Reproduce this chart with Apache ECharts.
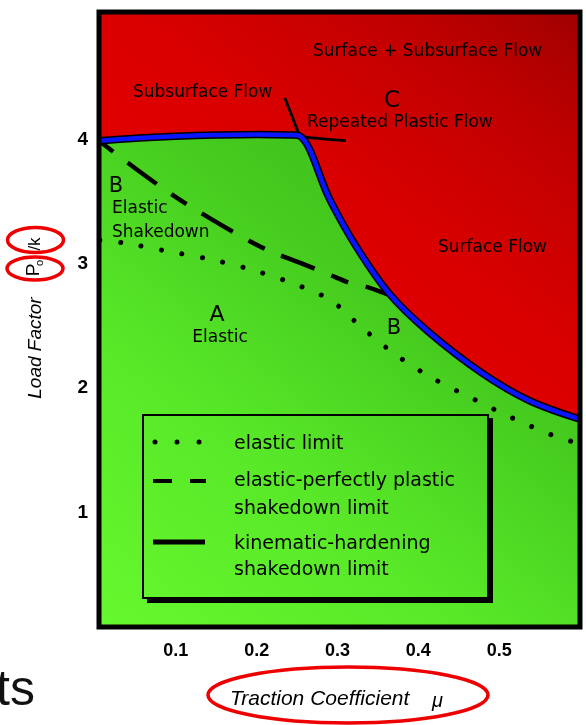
<!DOCTYPE html>
<html><head><meta charset="utf-8">
<script src="https://cdn.jsdelivr.net/npm/echarts@6/dist/echarts.min.js"></script>
<style>html,body{margin:0;padding:0;background:#fff}#c{width:586px;height:725px}</style>
</head><body><div id="c"></div>
<script>
// ---------------- data ----------------
// kinematic-hardening shakedown limit (boundary between regions)
const kinMu = [0.005, 0.05, 0.1, 0.15, 0.2, 0.245, 0.253, 0.291, 0.324, 0.364, 0.413, 0.479, 0.537, 0.6];
const kinL  = [3.99, 4.01, 4.025, 4.035, 4.04, 4.035, 4.03, 3.51, 3.13, 2.76, 2.45, 2.12, 1.90, 1.75];
// elastic-perfectly plastic shakedown limit
const epMu = [0.005, 0.041, 0.078, 0.115, 0.171, 0.213, 0.254, 0.292, 0.315, 0.338, 0.367];
const epL  = [3.99, 3.81, 3.634, 3.473, 3.256, 3.111, 3.007, 2.906, 2.846, 2.81, 2.741];
// elastic limit
const elMu = [0.006, 0.035, 0.087, 0.14, 0.19, 0.243, 0.291, 0.332, 0.374, 0.419, 0.468, 0.516, 0.565, 0.6];
const elL  = [3.19, 3.168, 3.104, 3.039, 2.959, 2.846, 2.709, 2.476, 2.259, 2.074, 1.913, 1.760, 1.623, 1.55];
// short separator lines near the top (subsurface / repeated plastic flow)
const sepAMu = [0.235, 0.2536];
const sepAL  = [4.334, 4.022];
const sepBMu = [0.2536, 0.2784, 0.3105];
const sepBL  = [4.022, 4.006, 3.99];
// ticks
const xTicks = [0.1, 0.2, 0.3, 0.4, 0.5];
const yTicks = [1, 2, 3, 4];
// names
const seriesNames = ['elastic limit', 'elastic-perfectly plastic\nshakedown limit', 'kinematic-hardening\nshakedown limit'];
const xTitle = 'Traction Coefficient';
const yTitle = 'Load Factor';

// ---------------- chart ----------------
const zip = (a, b) => a.map((v, i) => [v, b[i]]);
const kin = zip(kinMu, kinL);
const KSM = 0.35;

const redGrad = {type: 'linear', x: 99, y: 627, x2: 580, y2: 12, global: true,
  colorStops: [{offset: 0, color: '#f20000'}, {offset: 0.45, color: '#e40000'}, {offset: 0.65, color: '#d90000'},
               {offset: 0.85, color: '#c00000'}, {offset: 1, color: '#a00000'}]};
const greenGrad = {type: 'linear', x: 99, y: 627, x2: 580, y2: 12, global: true,
  colorStops: [{offset: 0, color: '#66f82e'}, {offset: 0.3, color: '#58e828'}, {offset: 0.55, color: '#46cc1f'},
               {offset: 1, color: '#30a812'}]};

const AG = '"DejaVu Sans", sans-serif';
const AR = '"Liberation Sans", Arial, sans-serif';

function txt(text, x, y, size, extra) {
  return Object.assign({type: 'text', x: x, y: y, z: 60,
    style: {text: text, font: size + 'px ' + AG, fill: '#000', align: 'left', verticalAlign: 'middle',
            textAlign: 'left', textVerticalAlign: 'middle'}}, extra || {});
}
function ctxt(text, x, y, size) {
  const t = txt(text, x, y, size);
  t.style.align = 'center'; t.style.textAlign = 'center';
  return t;
}

const legendLines = [];
const lgX = 234;
const lgRows = [[seriesNames[0].split('\n')[0], 444], [seriesNames[1].split('\n')[0], 481], [seriesNames[1].split('\n')[1], 509],
                [seriesNames[2].split('\n')[0], 544], [seriesNames[2].split('\n')[1], 570]];
lgRows.forEach(r => legendLines.push(txt(r[0], lgX, r[1], 19)));

const graphics = [
  // plot frame
  {type: 'rect', z: 80, shape: {x: 99, y: 12, width: 481, height: 615}, style: {fill: 'none', stroke: '#000', lineWidth: 5}},
  // region labels
  txt('Surface + Subsurface Flow', 313, 52, 17),
  txt('Subsurface Flow', 133, 93, 17),
  ctxt('C', 392, 101, 23),
  txt('Repeated Plastic Flow', 307, 123, 17),
  ctxt('B', 116, 187, 21),
  txt('Elastic', 112, 209, 17),
  txt('Shakedown', 112, 233, 17),
  txt('Surface Flow', 438, 248, 17),
  ctxt('A', 217, 315, 22),
  ctxt('Elastic', 220, 338, 17),
  ctxt('B', 394, 329, 21),
  // legend box
  {type: 'polyline', z: 60, shape: {points: [[147, 601], [491, 601], [491, 418]]}, style: {stroke: '#000', lineWidth: 4, fill: 'none'}},
  {type: 'rect', z: 61, shape: {x: 143, y: 415, width: 345, height: 183}, style: {fill: 'none', stroke: '#000', lineWidth: 2}},
  {type: 'line', z: 61, shape: {x1: 155, y1: 442, x2: 201, y2: 442}, style: {stroke: '#000', lineWidth: 5, lineCap: 'round', lineDash: [0.01, 22]}},
  {type: 'line', z: 61, shape: {x1: 153, y1: 481, x2: 172, y2: 481}, style: {stroke: '#000', lineWidth: 4}},
  {type: 'line', z: 61, shape: {x1: 190, y1: 481, x2: 206, y2: 481}, style: {stroke: '#000', lineWidth: 4}},
  {type: 'line', z: 61, shape: {x1: 153, y1: 542, x2: 205, y2: 542}, style: {stroke: '#000', lineWidth: 5}},
  ...legendLines,
  // axis titles
  {type: 'text', z: 60, x: 230, y: 699, style: {text: xTitle, font: 'italic 21px ' + AR, fill: '#000', align: 'left', verticalAlign: 'middle', textAlign: 'left', textVerticalAlign: 'middle'}},
  {type: 'text', z: 60, x: 432, y: 701, style: {text: 'μ', font: 'italic 20px ' + AR, fill: '#000', align: 'left', verticalAlign: 'middle', textAlign: 'left', textVerticalAlign: 'middle'}},
  {type: 'text', z: 60, x: 36, y: 348, rotation: Math.PI / 2, style: {text: yTitle, font: 'italic 19px ' + AR, fill: '#000', align: 'center', verticalAlign: 'middle', textAlign: 'center', textVerticalAlign: 'middle'}},
  {type: 'text', z: 60, x: 34, y: 270, rotation: Math.PI / 2, style: {text: 'P', font: '19px ' + AR, fill: '#000', align: 'center', verticalAlign: 'middle', textAlign: 'center', textVerticalAlign: 'middle'}},
  {type: 'text', z: 60, x: 40, y: 263, rotation: Math.PI / 2, style: {text: 'o', font: '11px ' + AR, fill: '#000', align: 'center', verticalAlign: 'middle', textAlign: 'center', textVerticalAlign: 'middle'}},
  {type: 'text', z: 60, x: 35, y: 244, rotation: Math.PI / 2, style: {text: '/k', font: '17px ' + AR, fill: '#000', align: 'center', verticalAlign: 'middle', textAlign: 'center', textVerticalAlign: 'middle'}},
  // red ellipses
  {type: 'ellipse', z: 70, shape: {cx: 35.5, cy: 240, rx: 28, ry: 12.5}, style: {fill: 'none', stroke: '#ee0000', lineWidth: 3.5}},
  {type: 'ellipse', z: 70, shape: {cx: 35, cy: 268.5, rx: 28, ry: 11.5}, style: {fill: 'none', stroke: '#ee0000', lineWidth: 3.5}},
  {type: 'ellipse', z: 70, shape: {cx: 348, cy: 695, rx: 140, ry: 28}, style: {fill: 'none', stroke: '#ee0000', lineWidth: 3.5}},
  // slide fragment
  {type: 'text', z: 60, x: -4, y: 691, style: {text: 'ts', font: '50px ' + AR, fill: '#111', align: 'left', verticalAlign: 'middle', textAlign: 'left', textVerticalAlign: 'middle'}}
];

const chart = echarts.init(document.getElementById('c'), null, {renderer: 'canvas'});
chart.setOption({
  backgroundColor: '#ffffff',
  animation: false,
  grid: {left: 99, right: 6, top: 12, bottom: 98, containLabel: false},
  xAxis: {
    type: 'value', min: 0.005, max: 0.6,
    axisLine: {show: false}, splitLine: {show: false},
    axisTick: {show: true, inside: true, length: 18, customValues: xTicks, lineStyle: {color: '#000', width: 3}},
    axisLabel: {show: true, customValues: xTicks, formatter: v => v.toFixed(1), margin: 15,
                fontFamily: AR, fontSize: 18, fontWeight: 'bold', color: '#000'}
  },
  yAxis: {
    type: 'value', min: 0.078, max: 5.025,
    axisLine: {show: false}, splitLine: {show: false},
    axisTick: {show: true, inside: true, length: 14, customValues: yTicks, lineStyle: {color: '#000', width: 3}},
    axisLabel: {show: true, customValues: yTicks, formatter: v => String(v), margin: 11,
                fontFamily: AR, fontSize: 19, fontWeight: 'bold', color: '#000'}
  },
  series: [
    {type: 'line', name: 'plastic region', data: kin, symbol: 'none', silent: true, z: 1, smooth: KSM,
     lineStyle: {width: 0, opacity: 0}, areaStyle: {origin: 'end', color: redGrad, opacity: 1}},
    {type: 'line', name: 'shakedown region', data: kin, symbol: 'none', silent: true, z: 1, smooth: KSM,
     lineStyle: {width: 0, opacity: 0}, areaStyle: {origin: 'start', color: greenGrad, opacity: 1}},
    {type: 'line', name: seriesNames[0], data: zip(elMu, elL), symbol: 'none', z: 3, smooth: 0.3,
     lineStyle: {color: '#000', width: 5, type: [0.01, 20.8], cap: 'round'}},
    {type: 'line', name: seriesNames[1], data: zip(epMu, epL), symbol: 'none', z: 3, smooth: 0.3,
     lineStyle: {color: '#000', width: 4.5, type: [18, 18, 36, 18], cap: 'butt'}},
    {type: 'line', name: 'sepA', data: zip(sepAMu, sepAL), symbol: 'none', z: 3,
     lineStyle: {color: '#000', width: 2.8}},
    {type: 'line', name: 'sepB', data: zip(sepBMu, sepBL), symbol: 'none', z: 3, smooth: 0.4,
     lineStyle: {color: '#000', width: 2.8}},
    {type: 'line', name: seriesNames[2], data: kin, symbol: 'none', z: 4, smooth: KSM,
     lineStyle: {color: '#000', width: 7.5, join: 'round'}},
    {type: 'line', name: seriesNames[2] + ' (blue)', data: kin, symbol: 'none', z: 5, smooth: KSM,
     lineStyle: {color: '#0a14ff', width: 4.5, join: 'round'}}
  ],
  graphic: {elements: graphics}
});
</script>
</body></html>
